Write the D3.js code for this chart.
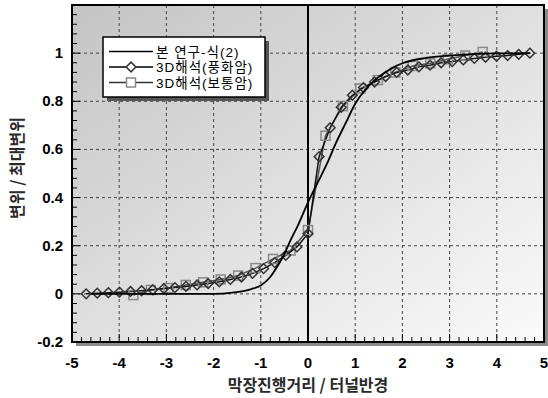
<!DOCTYPE html>
<html>
<head>
<meta charset="utf-8">
<script src="https://cdn.jsdelivr.net/npm/d3@7"></script>
<style>
  body { margin: 0; background: #fff; }
  svg text { font-family: "Liberation Sans", Arial, sans-serif; }
  .kr { font-family: "Noto Sans CJK KR", sans-serif; }
  .lg { font-family: "Liberation Sans", "Noto Sans CJK KR", sans-serif; }
</style>
</head>
<body>
<div id="chart"></div>
<script>
"use strict";

// 본 연구-식(2)
var formulaX = [-4.6, -3, -2, -1.6, -1.2, -1, -0.8, -0.6, -0.5, -0.4, -0.2, 0, 0.2, 0.4, 0.6, 0.8, 1.0, 1.2, 1.4, 1.6, 1.8, 2.0, 2.5, 3, 3.5, 4, 4.7];
var formulaY = [0, 0, 0, 0.005, 0.02, 0.035, 0.07, 0.13, 0.165, 0.21, 0.29, 0.38, 0.46, 0.54, 0.63, 0.71, 0.79, 0.845, 0.885, 0.915, 0.94, 0.958, 0.98, 0.99, 0.996, 0.999, 1.0];

// 3D해석(풍화암)
var weatheredX = [-4.7, -4.465, -4.23, -3.995, -3.76, -3.525, -3.29, -3.055, -2.82, -2.585, -2.35, -2.115, -1.88, -1.645, -1.41, -1.175, -0.94, -0.705, -0.47, -0.235, 0,
  0.235, 0.47, 0.705, 0.94, 1.175, 1.41, 1.645, 1.88, 2.115, 2.35, 2.585, 2.82, 3.055, 3.29, 3.525, 3.76, 3.995, 4.23, 4.465, 4.7];
var weatheredY = [0.0, 0.003, 0.005, 0.007, 0.01, 0.013, 0.017, 0.022, 0.026, 0.031, 0.037, 0.043, 0.05, 0.06, 0.07, 0.085, 0.105, 0.13, 0.16, 0.195, 0.25,
  0.57, 0.69, 0.775, 0.825, 0.857, 0.88, 0.903, 0.92, 0.93, 0.943, 0.95, 0.96, 0.965, 0.972, 0.978, 0.983, 0.987, 0.99, 0.995, 1.0];

// 3D해석(보통암)
var normalX = [-3.7, -3.33, -2.96, -2.59, -2.22, -1.85, -1.48, -1.11, -0.74, -0.37, 0,
  0.37, 0.74, 1.11, 1.48, 1.85, 2.22, 2.59, 2.96, 3.33, 3.7];
var normalY = [-0.005, 0.016, 0.024, 0.037, 0.048, 0.06, 0.076, 0.107, 0.145, 0.18, 0.265,
  0.657, 0.78, 0.853, 0.888, 0.92, 0.947, 0.958, 0.975, 0.99, 1.005];

var xTicks = [-5, -4, -3, -2, -1, 0, 1, 2, 3, 4, 5];
var yTicks = [-0.2, 0, 0.2, 0.4, 0.6, 0.8, 1];
var legendLabels = ["본 연구-식(2)", "3D해석(풍화암)", "3D해석(보통암)"];

var width = 548, height = 398;
var plot = { left: 72, right: 544, top: 5, bottom: 342 };

var svg = d3.select("#chart").append("svg").attr("width", width).attr("height", height);

var x = d3.scaleLinear().domain([-5, 5]).range([plot.left, plot.right]);
var y = d3.scaleLinear().domain([-0.2, 1.2]).range([plot.bottom, plot.top]);

var defs = svg.append("defs");
var grad = defs.append("linearGradient").attr("id", "bg")
  .attr("x1", "0%").attr("y1", "0%").attr("x2", "100%").attr("y2", "100%");
grad.append("stop").attr("offset", "0%").attr("stop-color", "#c4c4c4");
grad.append("stop").attr("offset", "55%").attr("stop-color", "#e2e2e2");
grad.append("stop").attr("offset", "100%").attr("stop-color", "#fbfbfb");

var pw = plot.right - plot.left, ph = plot.bottom - plot.top;

// shadow + background
svg.append("rect").attr("x", plot.left + 4).attr("y", plot.top + 4)
  .attr("width", pw).attr("height", ph).attr("fill", "#8a8a8a");
svg.append("rect").attr("x", plot.left).attr("y", plot.top)
  .attr("width", pw).attr("height", ph).attr("fill", "url(#bg)");

// grid
var grid = svg.append("g").attr("stroke", "#444").attr("stroke-width", 1).attr("stroke-dasharray", "3,3");
grid.selectAll("line.gx").data(xTicks.slice(1, -1).filter(function (d) { return d !== 0; })).enter().append("line")
  .attr("x1", function (d) { return x(d); }).attr("x2", function (d) { return x(d); })
  .attr("y1", plot.top).attr("y2", plot.bottom);
grid.selectAll("line.gy").data(yTicks.slice(1)).enter().append("line")
  .attr("y1", function (d) { return y(d); }).attr("y2", function (d) { return y(d); })
  .attr("x1", plot.left).attr("x2", plot.right);

// x = 0 line
svg.append("line").attr("x1", x(0)).attr("x2", x(0)).attr("y1", plot.top).attr("y2", plot.bottom)
  .attr("stroke", "#000").attr("stroke-width", 2);

// minor/major ticks inside frame
var ticks = svg.append("g").attr("stroke", "#000").attr("stroke-width", 1);
d3.range(-5, 5.001, 0.2).forEach(function (v) {
  var major = Math.abs(v - Math.round(v)) < 1e-6;
  ticks.append("line").attr("x1", x(v)).attr("x2", x(v))
    .attr("y1", plot.bottom).attr("y2", plot.bottom - (major ? 8 : 5));
});
d3.range(-0.2, 1.2001, 0.04).forEach(function (v) {
  var major = Math.abs(v * 5 - Math.round(v * 5)) < 1e-6;
  ticks.append("line").attr("y1", y(v)).attr("y2", y(v))
    .attr("x1", plot.left).attr("x2", plot.left + (major ? 8 : 5));
});

// tick labels
svg.append("g").selectAll("text").data(xTicks).enter().append("text")
  .attr("x", function (d) { return x(d); }).attr("y", 368)
  .attr("text-anchor", "middle").attr("font-size", 15).attr("font-weight", "bold")
  .text(function (d) { return d; });
svg.append("g").selectAll("text").data(yTicks).enter().append("text")
  .attr("x", 63).attr("y", function (d) { return y(d) + 5; })
  .attr("text-anchor", "end").attr("font-size", 15).attr("font-weight", "bold")
  .text(function (d) { return d; });

// axis titles
svg.append("text").attr("class", "kr").attr("x", 308).attr("y", 391)
  .attr("text-anchor", "middle").attr("font-size", 16).attr("font-weight", "bold").attr("fill", "#2a2a2a")
  .text("막장진행거리 / 터널반경");
svg.append("text").attr("class", "kr").attr("transform", "translate(23,168) rotate(-90)")
  .attr("text-anchor", "middle").attr("font-size", 16).attr("font-weight", "bold").attr("fill", "#2a2a2a")
  .text("변위 / 최대변위");

// series
var line = d3.line().x(function (d) { return x(d[0]); }).y(function (d) { return y(d[1]); });
var curve = d3.line().curve(d3.curveMonotoneX).x(function (d) { return x(d[0]); }).y(function (d) { return y(d[1]); });

var formula = d3.zip(formulaX, formulaY);
var weathered = d3.zip(weatheredX, weatheredY);
var normal = d3.zip(normalX, normalY);

svg.append("path").datum(normal).attr("d", line).attr("fill", "none").attr("stroke", "#555").attr("stroke-width", 1.5);
svg.append("path").datum(weathered).attr("d", line).attr("fill", "none").attr("stroke", "#111").attr("stroke-width", 1.5);

svg.append("g").selectAll("rect").data(normal).enter().append("rect")
  .attr("x", function (d) { return x(d[0]) - 4.5; }).attr("y", function (d) { return y(d[1]) - 4.5; })
  .attr("width", 9).attr("height", 9).attr("fill", "none").attr("stroke", "#888").attr("stroke-width", 1.5);

var diamond = d3.symbol().type(d3.symbolDiamond2).size(60);
svg.append("g").selectAll("path").data(weathered).enter().append("path")
  .attr("transform", function (d) { return "translate(" + x(d[0]) + "," + y(d[1]) + ")"; })
  .attr("d", diamond).attr("fill", "none").attr("stroke", "#333").attr("stroke-width", 1.5);

svg.append("path").datum(formula).attr("d", curve).attr("fill", "none").attr("stroke", "#000").attr("stroke-width", 1.8);

// frame
svg.append("rect").attr("x", plot.left).attr("y", plot.top).attr("width", pw).attr("height", ph)
  .attr("fill", "none").attr("stroke", "#000").attr("stroke-width", 2);

// legend
var lg = svg.append("g").attr("transform", "translate(103,37)");
lg.append("rect").attr("x", 4).attr("y", 4).attr("width", 162).attr("height", 60).attr("fill", "#555");
lg.append("rect").attr("width", 162).attr("height", 60).attr("fill", "#fff").attr("stroke", "#000").attr("stroke-width", 1.5);
legendLabels.forEach(function (label, i) {
  var ly = 14.5 + i * 15.5;
  lg.append("line").attr("x1", 6).attr("x2", 50).attr("y1", ly).attr("y2", ly)
    .attr("stroke", i === 2 ? "#333" : "#000").attr("stroke-width", 1.5);
  if (i === 1) {
    lg.append("path").attr("transform", "translate(28," + ly + ")").attr("d", diamond)
      .attr("fill", "#fff").attr("stroke", "#333").attr("stroke-width", 1.5);
  }
  if (i === 2) {
    lg.append("rect").attr("x", 23.5).attr("y", ly - 4.5).attr("width", 9).attr("height", 9)
      .attr("fill", "#fff").attr("stroke", "#888").attr("stroke-width", 1.5);
  }
  lg.append("text").attr("class", "lg").attr("x", 53).attr("y", ly + 5)
    .attr("font-size", 13.5).attr("letter-spacing", 1).attr("fill", "#000").text(label);
});
</script>
</body>
</html>
